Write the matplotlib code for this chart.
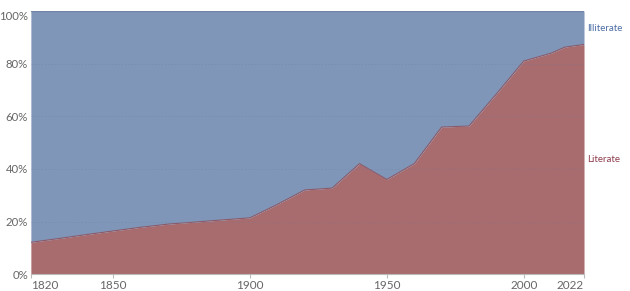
import numpy as np
import matplotlib.pyplot as plt
import matplotlib.transforms as mtransforms

plt.rcParams['font.family'] = ['Lato', 'DejaVu Sans']

years = [1820, 1830, 1840, 1850, 1860, 1870, 1880, 1890, 1900, 1910, 1920, 1930,
         1940, 1950, 1960, 1970, 1980, 1990, 2000, 2010, 2015, 2022]
literate = [12.1, 13.5, 15.0, 16.4, 17.8, 19.0, 19.8, 20.6, 21.4, 26.5, 32.0, 32.7,
            42.0, 36.0, 42.0, 55.9, 56.3, 68.5, 81.0, 84.0, 86.3, 87.3]
illiterate = [100 - v for v in literate]
xticks = [1820, 1850, 1900, 1950, 2000, 2022]
yticks = [0, 20, 40, 60, 80, 100]

red = '#a86c6e'
blue = '#8096b8'

fig = plt.figure(figsize=(6.3, 2.91), dpi=100)
ax = fig.add_axes([0.049, 0.058, 0.878, 0.904])

lit = np.array(literate)
ax.fill_between(years, 0, lit, color=red, lw=0)
ax.fill_between(years, lit, lit + np.array(illiterate), color=blue, lw=0)
ax.plot(years, lit, color='#8a5a6a', lw=0.8)
ax.plot(years, lit + np.array(illiterate), color='#6f84a8', lw=1)

ax.set_xlim(1820, 2022)
ax.set_ylim(0, 100)
ax.set_xticks(xticks)
ax.set_yticks(yticks)
ax.set_yticklabels([f'{t}%' for t in yticks])
for y in yticks[1:-1]:
    ax.axhline(y, color='#6d7f9c', lw=0.6, ls=(0, (2, 2)), alpha=0.35, zorder=3)

for s in ['top', 'right', 'left']:
    ax.spines[s].set_visible(False)
ax.spines['bottom'].set_color('#bbbbbb')
ax.tick_params(axis='y', length=0, pad=2, labelsize=8.2, labelcolor='#666666')
ax.tick_params(axis='x', length=3, color='#bbbbbb', pad=1, labelsize=8.5, labelcolor='#666666')
xl = ax.get_xticklabels()
xl[0].set_ha('left')
xl[-1].set_ha('right')
yl = ax.get_yticklabels()
yl[-1].set_transform(yl[-1].get_transform() +
                     mtransforms.ScaledTranslation(0, -3 / 72, fig.dpi_scale_trans))

ax.text(1.005, 0.935, 'Illiterate', transform=ax.transAxes, color='#4c6ea5',
        fontsize=7, va='center', ha='left')
ax.text(1.005, 0.435, 'Literate', transform=ax.transAxes, color='#8e3b4d',
        fontsize=7, va='center', ha='left')

fig.savefig('out.png', dpi=100)
